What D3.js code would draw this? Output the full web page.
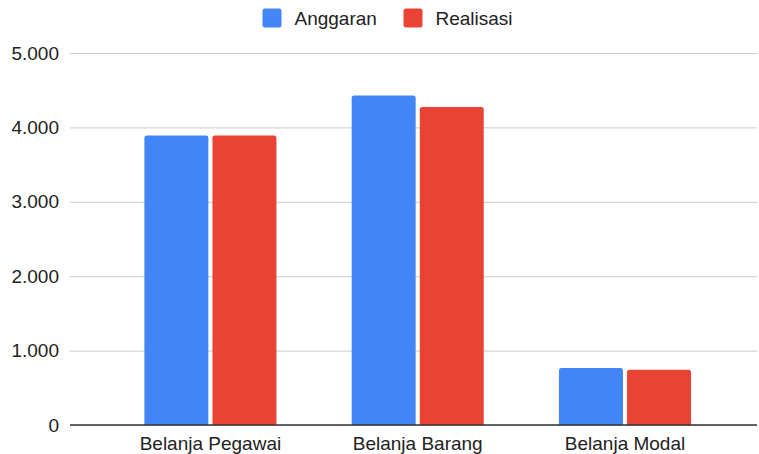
<!DOCTYPE html>
<html>
<head>
<meta charset="utf-8">
<script src="https://cdn.jsdelivr.net/npm/d3@7"></script>
<style>
  body { margin: 0; background: #fff; }
  text { font-family: "Liberation Sans", Arial, sans-serif; fill: #222; }
</style>
</head>
<body>
<div id="chart"></div>
<script>
const categories = ['Belanja Pegawai', 'Belanja Barang', 'Belanja Modal'];
const seriesNames = ['Anggaran', 'Realisasi'];
const anggaran = [3890, 4430, 765];
const realisasi = [3890, 4275, 742];
const yTicks = [0, 1000, 2000, 3000, 4000, 5000];
const colors = ['#4285F4', '#EA4335'];

const width = 759;
const height = 454;
const margin = { left: 70, right: 2, top: 53, bottom: 29 };
const FONT = '"Liberation Sans", Arial, sans-serif';
const FONT_SIZE = '19px';

const svg = d3.select('#chart').append('svg')
  .attr('width', width)
  .attr('height', height);

const x = d3.scaleBand()
  .domain(categories)
  .range([margin.left, width - margin.right])
  .paddingInner(0.363)
  .paddingOuter(0.3385)
  .align(0.53);

const xInner = d3.scaleBand()
  .domain(seriesNames)
  .range([0, x.bandwidth()])
  .paddingInner(0.06);

const y = d3.scaleLinear()
  .domain([0, 5000])
  .range([height - margin.bottom, margin.top]);

const fmt = v => d3.format(',')(v).replace(/,/g, '.');

// gridlines + tick labels
const yAxis = d3.axisLeft(y)
  .tickValues(yTicks)
  .tickSize(-(width - margin.right - margin.left))
  .tickPadding(11)
  .tickFormat(fmt);

const gy = svg.append('g')
  .attr('transform', `translate(${margin.left}, 0)`)
  .call(yAxis);
gy.select('.domain').remove();
gy.selectAll('.tick line').attr('stroke', '#cccccc').attr('stroke-width', 1);
gy.selectAll('.tick text')
  .style('font-size', FONT_SIZE)
  .style('font-family', FONT)
  .attr('fill', '#222');

// bars with rounded top corners
function barPath(x0, y0, w, h, r) {
  r = Math.min(r, h, w / 2);
  return `M${x0},${y0 + h}V${y0 + r}Q${x0},${y0} ${x0 + r},${y0}` +
    `H${x0 + w - r}Q${x0 + w},${y0} ${x0 + w},${y0 + r}V${y0 + h}Z`;
}

const rows = categories.map((c, i) => ({
  cat: c,
  values: [anggaran[i], realisasi[i]]
}));

const groups = svg.selectAll('.group')
  .data(rows)
  .enter()
  .append('g')
  .attr('class', 'group')
  .attr('transform', d => `translate(${x(d.cat)}, 0)`);

groups.selectAll('path')
  .data(d => d.values.map((v, j) => ({ name: seriesNames[j], v: v, j: j })))
  .enter()
  .append('path')
  .attr('fill', d => colors[d.j])
  .attr('d', d => barPath(xInner(d.name), y(d.v), xInner.bandwidth(), y(0) - y(d.v), 2.5));

// baseline
svg.append('line')
  .attr('x1', margin.left)
  .attr('x2', width - margin.right)
  .attr('y1', y(0))
  .attr('y2', y(0))
  .attr('stroke', '#333')
  .attr('stroke-width', 1.5);

// category labels
const xAxis = d3.axisBottom(x).tickSize(0).tickPadding(12);
const gx = svg.append('g')
  .attr('transform', `translate(0, ${y(0)})`)
  .call(xAxis);
gx.select('.domain').remove();
gx.selectAll('.tick text')
  .style('font-size', FONT_SIZE)
  .style('font-family', FONT)
  .attr('fill', '#222');

// legend
const legendItems = [
  { name: seriesNames[0], color: colors[0], x: 262.5 },
  { name: seriesNames[1], color: colors[1], x: 403.5 }
];
const legend = svg.append('g');
legendItems.forEach(item => {
  legend.append('rect')
    .attr('x', item.x)
    .attr('y', 8.5)
    .attr('width', 19)
    .attr('height', 19)
    .attr('rx', 2.5)
    .attr('fill', item.color);
  legend.append('text')
    .attr('x', item.x + 32)
    .attr('y', 18)
    .attr('dy', '0.35em')
    .style('font-size', FONT_SIZE)
    .style('font-family', FONT)
    .text(item.name);
});
</script>
</body>
</html>
